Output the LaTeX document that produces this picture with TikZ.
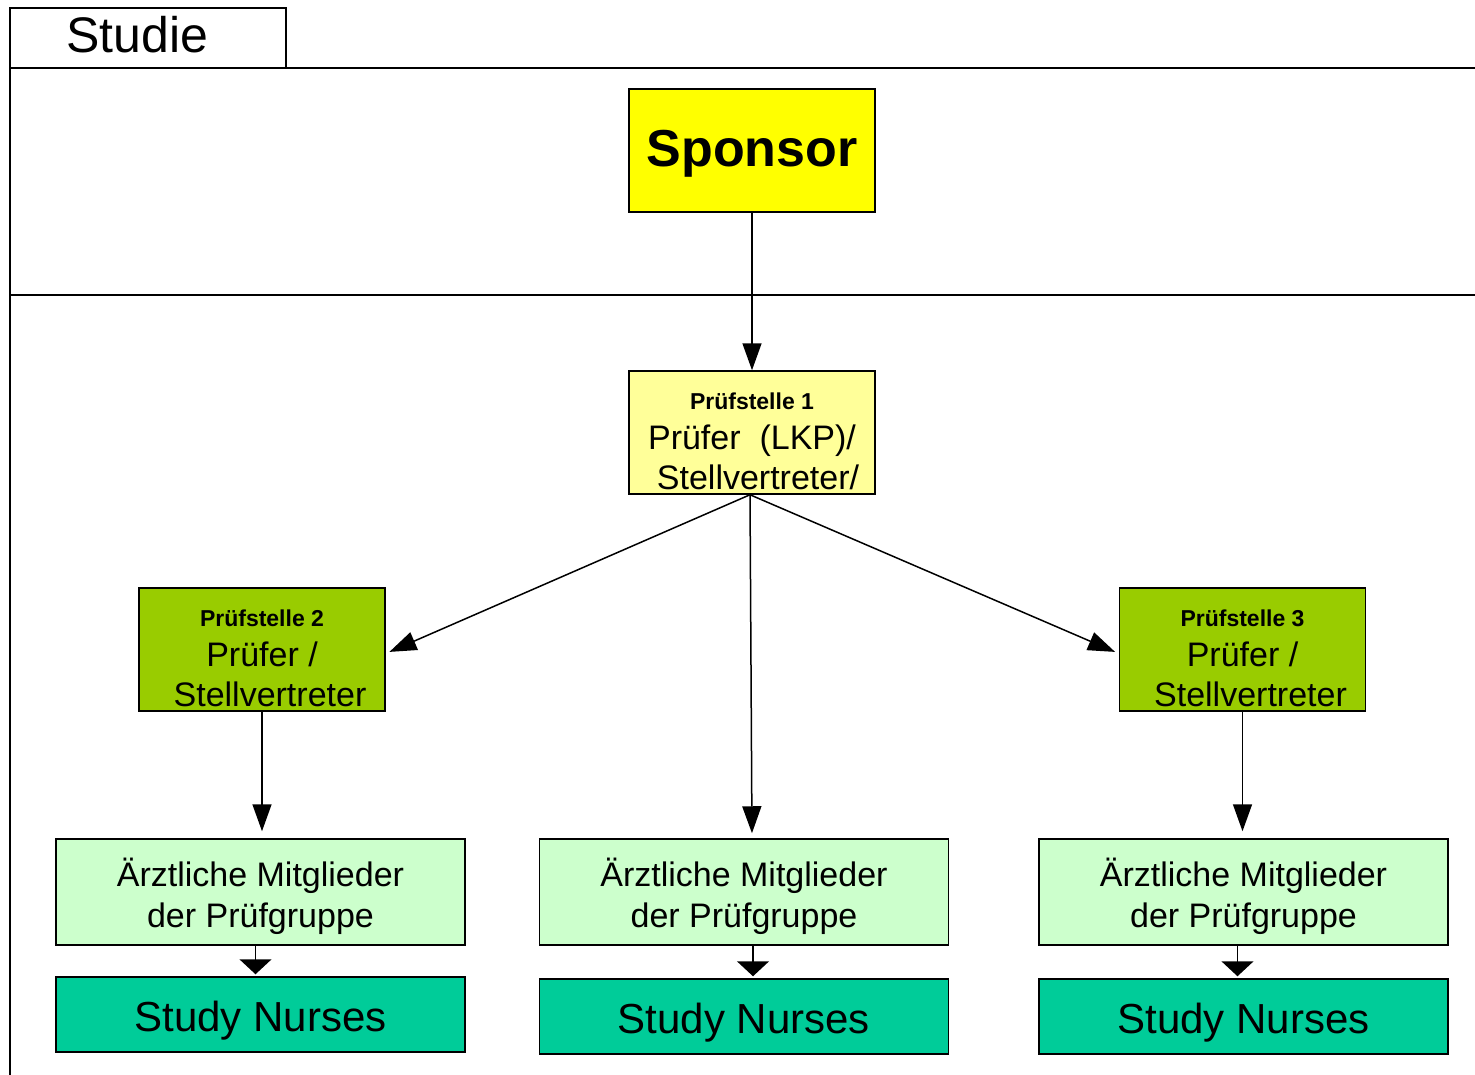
\documentclass[tikz,border=0pt]{standalone}
\usepackage{fontspec}
\setmainfont{Liberation Sans}
\usepackage{tikz}
\usetikzlibrary{arrows.meta}
\definecolor{sponsorgelb}{HTML}{FFFF00}
\definecolor{hellgelb}{HTML}{FFFF99}
\definecolor{gruen}{HTML}{99CC00}
\definecolor{hellgruen}{HTML}{CCFFCC}
\definecolor{tuerkis}{HTML}{00CC99}
\tikzset{box/.style = {draw,line width=1.5pt,inner sep=0pt,align=center},
         stelle/.style = {box,minimum width=246pt,minimum height=123pt,font=\fontsize{34}{40}\selectfont},
         arzt/.style = {box,fill=hellgruen,minimum width=409pt,minimum height=106pt,font=\fontsize{34}{41}\selectfont},
         nurse/.style = {box,fill=tuerkis,minimum width=409pt,minimum height=75pt,font=\fontsize{42}{48}\selectfont,
                         text height=36pt,text depth=3pt},
         pfeil/.style = {line width=1.5pt,-{Triangle[length=27pt,width=19pt]}},
         kurzpfeil/.style = {line width=1.5pt,-{Triangle[length=15pt,width=32pt]}}}
\newcommand{\kopf}[1]{\rule{0pt}{34pt}{\fontsize{23}{26}\selectfont\bfseries #1}}
\newcommand{\arztext}{\rule{0pt}{37pt}Ärztliche Mitglieder\\ der Prüfgruppe}
\begin{document}
\begin{tikzpicture}[x=1pt,y=-1pt]
                    \useasboundingbox (0,0) rectangle (1475,1075);
                    \fill[white] (0,0) rectangle (1475,1075);

                    \draw[line width=1.5pt] (10,1075) -- (10,68) -- (1475,68);
                    \draw[line width=1.5pt] (10,295) -- (1475,295);
                    \node[box,minimum width=276pt,minimum height=60pt,font=\fontsize{50}{54}\selectfont,
                          text height=36pt,text depth=7pt] (studie) at (148,38) {Studie\hspace*{21pt}};

                    \node[box,fill=sponsorgelb,minimum width=246pt,minimum height=123pt,font=\fontsize{52}{56}\selectfont\bfseries,
                          text height=38pt,text depth=5pt] (sp) at (752,150.5) {Sponsor};
                    \node[stelle,fill=hellgelb] (p1) at (752,432.5) {\kopf{Prüfstelle 1}\\ Prüfer~~(LKP)/\\ \hspace*{12pt}Stellvertreter/};
                    \node[stelle,fill=gruen] (p2) at (262,649.5) {\kopf{Prüfstelle 2}\\ Prüfer /\\ \hspace*{16pt}Stellvertreter};
                    \node[stelle,fill=gruen] (p3) at (1242.5,649.5) {\kopf{Prüfstelle 3}\\ Prüfer /\\ \hspace*{16pt}Stellvertreter};

                    \node[arzt] (a1) at (260.5,892) {\arztext};
                    \node[arzt] (a2) at (744,892) {\arztext};
                    \node[arzt] (a3) at (1243.5,892) {\arztext};

                    \node[nurse] (n1) at (260.5,1014.5) {Study Nurses};
                    \node[nurse] (n2) at (744,1016.5) {Study Nurses};
                    \node[nurse] (n3) at (1243.5,1016.5) {Study Nurses};

                    \draw[pfeil] (sp) -- (p1);
                    \draw[pfeil,shorten >=4pt] ([xshift=-2pt]p1.south) -- ([yshift=-4pt]p2.east);
                    \draw[pfeil,shorten >=4pt] ([xshift=-2pt]p1.south) -- ([yshift=-4pt]p3.west);
                    \draw[pfeil,shorten >=5pt] ([xshift=-2pt]p1.south) -- (a2.north -| p1.south);
                    \draw[pfeil,shorten >=7pt] (p2) -- (p2 |- a1.north);
                    \draw[pfeil,shorten >=7pt] (p3) -- (p3 |- a3.north);
                    \draw[kurzpfeil,shorten >=2pt] ([xshift=-5pt]a1.south) -- ([xshift=-5pt]n1.north);
                    \draw[kurzpfeil,shorten >=2pt] ([xshift=9pt]a2.south) -- ([xshift=9pt]n2.north);
                    \draw[kurzpfeil,shorten >=2pt] ([xshift=-6pt]a3.south) -- ([xshift=-6pt]n3.north);
                \end{tikzpicture}
\end{document}
